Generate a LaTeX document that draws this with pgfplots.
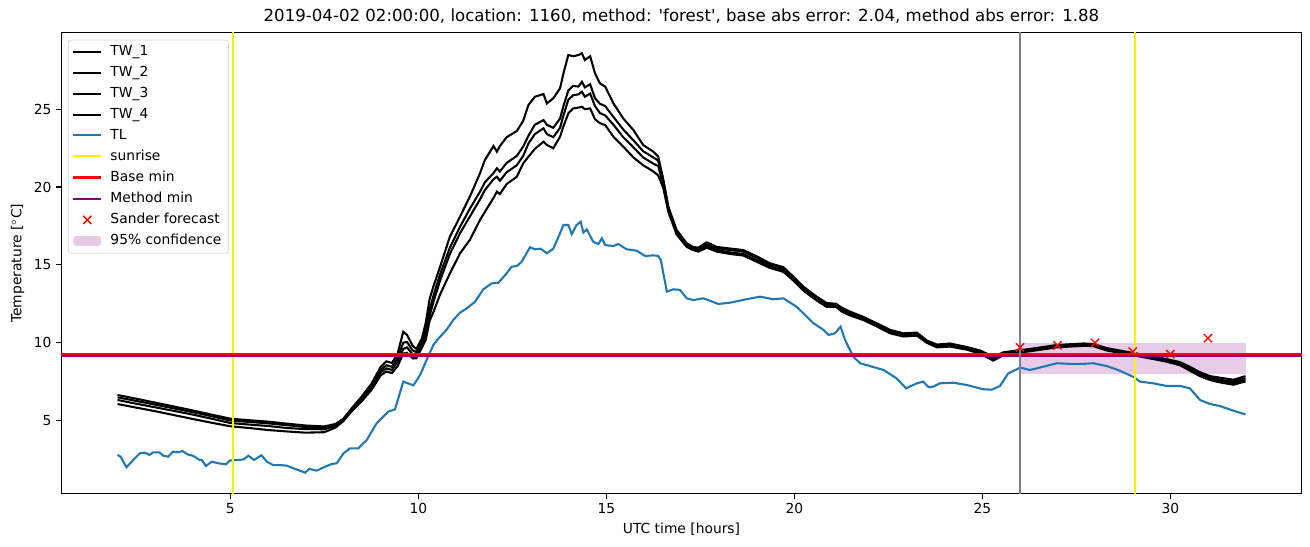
\documentclass[border=0pt]{standalone}
\usepackage{fontspec}
\setmainfont{DejaVu Sans}
\usepackage{pgfplots}
\pgfplotsset{compat=1.18}
\usepackage{pgfplotstable}
\definecolor{tabblue}{HTML}{1F77B4}
\definecolor{mplpurple}{HTML}{800080}
\definecolor{mplgray}{HTML}{808080}
\definecolor{legframe}{HTML}{CCCCCC}
\pgfplotsset{
  lineleg/.style={legend image code/.code={\draw[mark repeat=2,mark phase=2,##1] plot coordinates {(0pt,0pt) (10pt,0pt) (20pt,0pt)};}},
  bandleg/.style={legend image code/.code={\fill[##1] (0pt,-3.5pt) rectangle (20pt,3.5pt);}},
}

% TW sensors (four black lines)
\pgfplotstableread{
x a b c d
2.00 6.64 6.49 6.32 6.06
2.50 6.40 6.26 6.08 5.83
3.00 6.15 6.02 5.85 5.60
3.50 5.90 5.78 5.62 5.35
4.00 5.65 5.54 5.38 5.10
4.50 5.38 5.28 5.12 4.86
5.00 5.12 5.00 4.84 4.63
5.50 5.02 4.91 4.74 4.52
6.00 4.93 4.82 4.65 4.39
6.50 4.80 4.70 4.52 4.30
7.00 4.68 4.58 4.45 4.22
7.50 4.62 4.57 4.44 4.25
7.80 4.78 4.72 4.65 4.55
8.00 5.10 5.05 5.00 4.95
8.25 5.85 5.80 5.72 5.65
8.50 6.55 6.45 6.35 6.25
8.75 7.35 7.20 7.05 6.95
9.00 8.45 8.25 8.10 7.90
9.15 8.80 8.55 8.35 8.15
9.30 8.70 8.45 8.25 8.05
9.45 9.30 9.05 8.80 8.50
9.60 10.70 10.00 9.60 9.30
9.70 10.50 10.05 9.70 9.35
9.85 9.80 9.50 9.25 9.00
9.95 9.60 9.40 9.15 9.00
10.10 10.30 10.00 9.85 9.70
10.20 11.30 10.90 10.60 10.20
10.30 12.80 12.10 11.70 11.40
10.40 13.60 13.00 12.60 11.95
10.58 14.88 14.40 14.00 13.10
10.84 16.81 16.10 15.70 14.45
11.11 18.10 17.45 17.03 15.74
11.37 19.38 18.60 18.10 16.60
11.64 20.88 19.70 19.20 17.88
11.77 21.73 20.30 19.80 18.40
12.00 22.63 20.90 20.50 19.30
12.09 22.27 21.20 20.66 19.70
12.17 22.63 21.00 20.40 19.55
12.35 23.20 21.55 20.95 20.19
12.62 23.60 22.00 21.40 20.66
12.79 24.25 22.60 22.00 21.52
12.93 25.27 23.30 22.80 21.95
13.10 25.80 24.00 23.40 22.45
13.33 25.97 24.30 23.77 22.91
13.42 25.37 24.00 23.40 22.70
13.59 25.70 23.80 23.20 22.49
13.77 26.34 24.40 23.80 23.23
13.86 27.30 25.20 24.60 23.90
13.99 28.48 26.20 25.60 24.73
14.12 28.40 26.50 25.90 25.05
14.26 28.48 26.45 25.95 25.10
14.35 28.59 26.76 26.12 25.16
14.43 28.16 26.40 25.80 25.00
14.57 28.40 26.60 26.00 25.05
14.70 27.30 25.70 25.20 24.35
14.83 26.66 25.35 24.75 24.10
14.97 26.45 25.20 24.60 23.98
15.19 25.37 24.50 24.00 23.23
15.45 24.41 23.70 23.20 22.60
15.72 23.66 23.00 22.55 21.90
15.98 22.70 22.30 21.90 21.40
16.25 22.27 21.90 21.50 21.00
16.38 21.95 21.70 21.35 20.75
16.52 20.45 20.30 20.10 19.90
16.65 18.73 18.65 18.55 18.40
16.87 17.24 17.15 17.05 16.95
17.14 16.38 16.30 16.22 16.15
17.31 16.15 16.05 15.98 15.95
17.45 16.10 15.98 15.90 15.85
17.67 16.45 16.30 16.20 16.10
17.94 16.15 16.05 15.95 15.85
18.29 16.05 15.95 15.80 15.70
18.64 15.95 15.85 15.70 15.60
19.00 15.55 15.45 15.30 15.20
19.35 15.10 15.00 14.90 14.80
19.71 14.85 14.75 14.65 14.55
19.97 14.25 14.15 14.08 14.00
20.24 13.60 13.50 13.42 13.35
20.60 12.95 12.85 12.78 12.70
20.86 12.55 12.45 12.38 12.30
21.11 12.50 12.42 12.36 12.30
21.26 12.25 12.15 12.08 12.00
21.48 12.00 11.90 11.82 11.75
21.84 11.65 11.57 11.50 11.45
22.19 11.25 11.17 11.10 11.05
22.55 10.82 10.74 10.66 10.60
22.90 10.60 10.52 10.45 10.40
23.26 10.65 10.56 10.50 10.45
23.52 10.15 10.07 10.03 10.00
23.79 9.88 9.80 9.75 9.70
24.14 9.95 9.87 9.80 9.75
24.59 9.72 9.65 9.60 9.55
24.94 9.50 9.42 9.36 9.30
25.29 9.10 9.00 8.92 8.85
25.56 9.38 9.30 9.25 9.20
25.92 9.50 9.42 9.38 9.35
26.27 9.60 9.55 9.50 9.45
26.98 9.85 9.80 9.75 9.70
27.69 9.95 9.90 9.85 9.80
27.95 9.92 9.87 9.82 9.78
28.31 9.65 9.60 9.55 9.50
29.04 9.33 9.28 9.22 9.18
29.55 9.12 9.06 9.00 8.95
29.90 8.95 8.90 8.84 8.78
30.26 8.75 8.68 8.62 8.55
30.52 8.45 8.38 8.30 8.20
30.79 8.10 8.00 7.92 7.85
31.06 7.85 7.75 7.68 7.60
31.32 7.75 7.62 7.52 7.45
31.68 7.62 7.50 7.40 7.30
31.90 7.78 7.65 7.55 7.45
32.00 7.85 7.72 7.60 7.50
}\twdata

% TL (air temperature)
\pgfplotstableread{
x t
2.00 2.79
2.08 2.68
2.24 2.00
2.42 2.47
2.60 2.90
2.73 2.93
2.85 2.79
2.95 2.96
3.11 2.96
3.22 2.74
3.35 2.68
3.47 3.00
3.62 2.96
3.73 3.04
3.86 2.83
4.02 2.72
4.18 2.47
4.24 2.47
4.35 2.08
4.51 2.36
4.68 2.25
4.89 2.19
4.99 2.43
5.26 2.47
5.36 2.51
5.48 2.74
5.63 2.47
5.83 2.77
5.97 2.36
6.14 2.14
6.32 2.14
6.50 2.10
6.68 1.93
6.85 1.78
6.99 1.65
7.10 1.89
7.30 1.78
7.49 2.00
7.70 2.21
7.83 2.25
8.01 2.89
8.18 3.21
8.40 3.21
8.63 3.75
8.89 4.82
9.20 5.57
9.38 5.72
9.60 7.50
9.87 7.26
10.05 7.93
10.22 8.89
10.40 9.85
10.54 10.28
10.75 10.82
10.93 11.46
11.11 11.93
11.29 12.21
11.51 12.63
11.73 13.43
11.95 13.81
12.13 13.85
12.35 14.45
12.48 14.88
12.62 14.92
12.75 15.20
12.97 16.13
13.10 16.00
13.24 16.04
13.33 15.91
13.42 15.74
13.59 16.04
13.77 17.03
13.86 17.56
13.99 17.56
14.08 16.98
14.21 17.56
14.32 17.77
14.39 17.07
14.48 17.28
14.65 16.49
14.79 16.34
14.88 16.70
14.97 16.27
15.19 16.21
15.32 16.34
15.54 16.00
15.81 15.91
16.03 15.57
16.25 15.61
16.38 15.57
16.45 15.31
16.61 13.28
16.78 13.43
16.96 13.39
17.14 12.85
17.31 12.74
17.58 12.85
17.98 12.49
18.29 12.57
18.73 12.79
19.09 12.96
19.44 12.79
19.71 12.85
20.06 12.31
20.24 11.89
20.51 11.25
20.78 10.82
20.91 10.50
21.08 10.60
21.23 11.03
21.35 10.17
21.57 9.10
21.75 8.68
22.01 8.50
22.37 8.25
22.72 7.71
22.97 7.07
23.26 7.39
23.43 7.50
23.57 7.14
23.70 7.18
23.87 7.39
24.23 7.43
24.59 7.28
24.81 7.14
25.03 7.01
25.25 6.98
25.47 7.22
25.69 8.03
25.92 8.29
26.00 8.40
26.27 8.25
26.53 8.40
26.98 8.68
27.33 8.64
27.69 8.64
27.95 8.68
28.31 8.50
28.66 8.20
29.04 7.78
29.19 7.50
29.55 7.39
29.90 7.22
30.26 7.22
30.52 7.07
30.79 6.32
31.06 6.06
31.32 5.93
31.68 5.63
31.90 5.46
32.00 5.40
}\tldata

\begin{document}
\begin{tikzpicture}
\begin{axis}[
  scale only axis, width=12.408in, height=4.608in,
  xmin=0.5, xmax=33.5, ymin=0.3, ymax=29.9,
  xtick={5,10,...,30}, ytick={5,10,...,25},
  xtick pos=bottom, ytick pos=left, tick align=outside,
  major tick length=3.5pt,
  every tick/.style={black, line width=0.8pt},
  axis line style={line width=0.8pt},
  /pgf/number format/assume math mode=true,
  ticklabel style={font=\fontsize{10}{12}\selectfont},
  label style={font=\fontsize{10}{12}\selectfont},
  xlabel={UTC time [hours]},
  ylabel={Temperature [$^\circ$C]},
  title={2019-04-02 02:00:00, location: 1160, method: \textquotesingle forest\textquotesingle, base abs error: 2.04, method abs error: 1.88},
  title style={font=\fontsize{12}{14.4}\selectfont, at={(0.5,1)}, anchor=south, yshift=-2.5pt},
  legend cell align=left,
  legend style={at={(0,1)}, anchor=north west, xshift=5pt, yshift=-5pt,
    draw=legframe, rounded corners=2pt, fill=white, fill opacity=0.8,
    text opacity=1, draw opacity=1, font=\fontsize{10}{12}\selectfont,
    inner xsep=3pt, inner ysep=2pt, row sep=1.7pt, column sep=4pt,
    nodes={inner sep=2pt, text depth=0.2em}},
  lineleg,
]
% confidence band (drawn first, listed last in the legend)
\addplot[fill=mplpurple, fill opacity=0.2, draw=none, forget plot]
  coordinates {(26,8.0) (32,8.0) (32,10.0) (26,10.0)} -- cycle;

\addplot[black, line width=1.5pt] table[x=x, y=a] {\twdata};
\addlegendentry{TW\_1}
\addplot[black, line width=1.5pt] table[x=x, y=b] {\twdata};
\addlegendentry{TW\_2}
\addplot[black, line width=1.5pt] table[x=x, y=c] {\twdata};
\addlegendentry{TW\_3}
\addplot[black, line width=1.5pt] table[x=x, y=d] {\twdata};
\addlegendentry{TW\_4}
\addplot[tabblue, line width=1.5pt] table[x=x, y=t] {\tldata};
\addlegendentry{TL}

\addplot[yellow, line width=1.5pt] coordinates {(5.06,-5) (5.06,40)};
\addlegendentry{sunrise}
\addplot[yellow, line width=1.5pt, forget plot] coordinates {(29.05,-5) (29.05,40)};

\addplot[red, line width=1.5pt] coordinates {(-5,9.26) (40,9.26)};
\addlegendentry{Base min}
\addplot[mplpurple, line width=1.5pt] coordinates {(-5,9.15) (40,9.15)};
\addlegendentry{Method min}

\addplot[red, only marks, mark=x, mark size=4.2pt, line width=1pt]
  coordinates {(26,9.70) (27,9.83) (28,9.99) (29,9.43) (30,9.26) (31,10.29)};
\addlegendentry{Sander forecast}

\addplot[mplgray, line width=1.5pt, forget plot] coordinates {(26,-5) (26,40)};

\addlegendimage{bandleg, fill=mplpurple, fill opacity=0.2, draw=none}
\addlegendentry{95\% confidence}
\end{axis}
\pgfresetboundingbox
\path ([shift={(-0.611in,-0.533in)}]current axis.south west)
  rectangle ([shift={(0.081in,0.329in)}]current axis.north east);
\end{tikzpicture}
\end{document}
